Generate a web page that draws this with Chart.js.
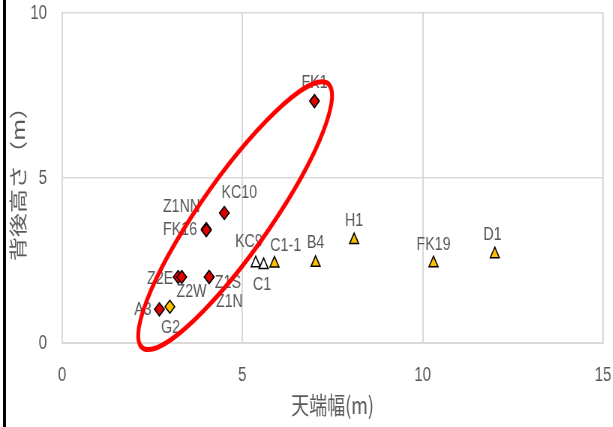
<!DOCTYPE html>
<html>
<head>
<meta charset="utf-8">
<script src="https://cdn.jsdelivr.net/npm/chart.js@4/dist/chart.umd.min.js"></script>
<style>
  html, body { margin: 0; padding: 0; background: #fff; overflow: hidden; width: 613px; height: 427px; }
  /* the drawing is laid out wide and pressed to the page width */
  #chart { display: block; transform: scaleX(0.75); transform-origin: 0 0; }
</style>
</head>
<body>
<canvas id="chart" width="818" height="427"></canvas>
<script>
// 天端幅 (x, m) and 背後高さ (y, m) for each site
const redNames   = ['FK1', 'KC10', 'Z1NN', 'FK16', 'Z2E', 'Z2W', 'Z1S', 'Z1N', 'A3'];
const redWidths  = [7.0, 4.5, 4.0, 4.0, 3.22, 3.32, 4.08, 4.08, 2.7];
const redHeights = [7.33, 3.94, 3.45, 3.42, 2.0, 2.0, 2.0, 2.0, 1.02];

const goldDiamondNames   = ['G2'];
const goldDiamondWidths  = [2.99];
const goldDiamondHeights = [1.1];

const whiteTriNames   = ['KC9', 'C1'];
const whiteTriWidths  = [5.37, 5.59];
const whiteTriHeights = [2.42, 2.36];

const goldTriNames   = ['C1-1', 'B4', 'H1', 'FK19', 'D1'];
const goldTriWidths  = [5.89, 7.03, 8.1, 10.3, 12.0];
const goldTriHeights = [2.41, 2.43, 3.12, 2.42, 2.69];

const xTicks = [0, 5, 10, 15];
const yTicks = [0, 5, 10];

// where each site name sits relative to its marker (px)
const labelPlacement = {
  'FK1': [0, -18.5], 'KC10': [20, -20], 'Z1NN': [-33, -22.5], 'FK16': [-35, 0],
  'Z2E': [-24, 1.5], 'Z2W': [13, 14.5], 'Z1S': [25, 6], 'Z1N': [27, 25],
  'A3': [-22, 0], 'G2': [1, 21], 'KC9': [-9, -21], 'C1': [-2, 20],
  'C1-1': [15, -18], 'B4': [0, -20], 'H1': [0, -19], 'FK19': [0, -18], 'D1': [-3, -19]
};

// red ring around the narrow group: centre and two conjugate half-diameters, in data units
const ringCentre = [4.8, 3.86];
const ringAxisA  = [1.19, 0];
const ringAxisB  = [2.41, 4.06];

const toPoints = (xs, ys) => xs.map((x, i) => ({ x: x, y: ys[i] }));

const GREY = '#595959';
const GRID = '#D9D9D9';
const LABEL_FONT = '19px "Liberation Sans", Arial, sans-serif';

// the plot box is set by the layout padding alone
const noTickOverhang = s => {
  s.paddingTop = 0; s.paddingBottom = 0; s.paddingLeft = 0; s.paddingRight = 0;
};

const notesPlugin = {
  id: 'notes',
  beforeDraw(chart) {
    const ctx = chart.ctx;
    ctx.save();
    ctx.fillStyle = '#ffffff';
    ctx.fillRect(0, 0, chart.width, chart.height);
    ctx.fillStyle = '#000000';
    ctx.fillRect(4, 0, 4, chart.height);
    ctx.restore();
  },
  afterDatasetsDraw(chart) {
    const ctx = chart.ctx;
    ctx.save();
    ctx.font = LABEL_FONT;
    ctx.fillStyle = GREY;
    ctx.textAlign = 'center';
    ctx.textBaseline = 'middle';
    chart.data.datasets.forEach((ds, di) => {
      const meta = chart.getDatasetMeta(di);
      ds.names.forEach((name, i) => {
        const el = meta.data[i];
        const off = labelPlacement[name] || [0, -18];
        ctx.fillText(name, el.x + off[0], el.y + off[1]);
      });
    });
    ctx.restore();
  },
  afterDraw(chart) {
    const xs = chart.scales.x, ys = chart.scales.y;
    const cx = xs.getPixelForValue(ringCentre[0]);
    const cy = ys.getPixelForValue(ringCentre[1]);
    const ax = xs.getPixelForValue(ringCentre[0] + ringAxisA[0]) - cx;
    const ay = ys.getPixelForValue(ringCentre[1] + ringAxisA[1]) - cy;
    const bx = xs.getPixelForValue(ringCentre[0] + ringAxisB[0]) - cx;
    const by = ys.getPixelForValue(ringCentre[1] + ringAxisB[1]) - cy;
    const ctx = chart.ctx;
    ctx.save();
    ctx.beginPath();
    ctx.save();
    ctx.transform(ax, ay, bx, by, cx, cy);
    ctx.arc(0, 0, 1, 0, Math.PI * 2);
    ctx.restore();
    ctx.strokeStyle = '#FF0000';
    ctx.lineWidth = 5;
    ctx.stroke();
    ctx.restore();
  }
};

new Chart(document.getElementById('chart'), {
  type: 'scatter',
  data: {
    datasets: [
      {
        names: redNames,
        data: toPoints(redWidths, redHeights),
        pointStyle: 'rectRot', pointRadius: 6.5, pointHoverRadius: 6.5,
        backgroundColor: '#E00000', borderColor: '#000000', borderWidth: 1.5
      },
      {
        names: goldDiamondNames,
        data: toPoints(goldDiamondWidths, goldDiamondHeights),
        pointStyle: 'rectRot', pointRadius: 6.5, pointHoverRadius: 6.5,
        backgroundColor: '#FFC000', borderColor: '#000000', borderWidth: 1.5
      },
      {
        names: whiteTriNames,
        data: toPoints(whiteTriWidths, whiteTriHeights),
        pointStyle: 'triangle', pointRadius: 7, pointHoverRadius: 7,
        backgroundColor: '#FFFFFF', borderColor: '#000000', borderWidth: 1.5
      },
      {
        names: goldTriNames,
        data: toPoints(goldTriWidths, goldTriHeights),
        pointStyle: 'triangle', pointRadius: 7, pointHoverRadius: 7,
        backgroundColor: '#FFC000', borderColor: '#000000', borderWidth: 1.5
      }
    ]
  },
  options: {
    responsive: false,
    animation: false,
    devicePixelRatio: 1,
    events: [],
    layout: { padding: { top: 13, right: 14, left: 0, bottom: 0 } },
    plugins: { legend: { display: false }, tooltip: { enabled: false } },
    scales: {
      x: {
        type: 'linear', min: 0, max: 15,
        afterBuildTicks: s => { s.ticks = xTicks.map(v => ({ value: v })); },
        afterFit: s => { s.height = 84; noTickOverhang(s); },
        ticks: { color: GREY, padding: 20, font: { family: '"Liberation Sans", Arial, sans-serif', size: 20 } },
        grid: { color: GRID, lineWidth: 2, drawTicks: false },
        border: { color: GRID, width: 2 },
        title: {
          display: true, text: '天端幅(m)', color: GREY,
          font: { family: '"Noto Sans CJK JP", sans-serif', size: 24 },
          padding: { top: 0, bottom: 8 }
        }
      },
      y: {
        type: 'linear', min: 0, max: 10,
        afterBuildTicks: s => { s.ticks = yTicks.map(v => ({ value: v })); },
        afterFit: s => { s.width = 82.7; noTickOverhang(s); },
        ticks: { color: GREY, padding: 20, font: { family: '"Liberation Sans", Arial, sans-serif', size: 20 } },
        grid: { color: GRID, lineWidth: 1.5, drawTicks: false },
        border: { color: GRID, width: 2 },
        title: {
          display: true, text: '背後高さ（m）', color: GREY,
          font: { family: '"Noto Sans CJK JP", sans-serif', size: 24 },
          padding: { top: 9, bottom: 0 }
        }
      }
    }
  },
  plugins: [notesPlugin]
});
</script>
</body>
</html>
